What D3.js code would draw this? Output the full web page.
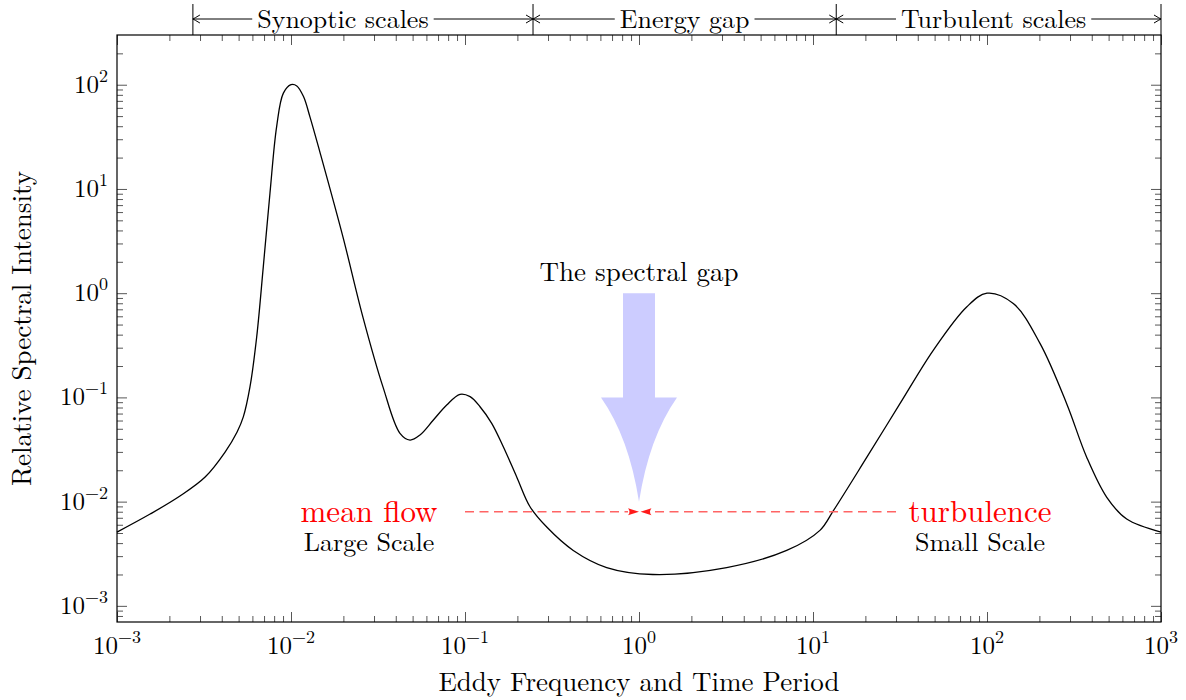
<!DOCTYPE html>
<html>
<head>
<meta charset="utf-8">
<script src="https://cdn.jsdelivr.net/npm/d3@7"></script>
<style>
  html, body { margin: 0; padding: 0; background: #fff; }
  svg text { font-family: "Latin Modern Roman", "CMU Serif", "Liberation Serif", "Times New Roman", serif; }
</style>
</head>
<body>
<svg id="chart" width="1186" height="700"></svg>
<script>
// Spectrum samples: eddy frequency and relative spectral intensity
const frequency = [0.001, 0.00155, 0.0023, 0.00321, 0.00418, 0.0049, 0.00532, 0.00581, 0.00635, 0.00693,
  0.00757, 0.00827, 0.00904, 0.01, 0.0108, 0.0118, 0.01285, 0.0147, 0.0199, 0.0259,
  0.0338, 0.0423, 0.0483, 0.0551, 0.0658, 0.0785, 0.0936, 0.107, 0.122, 0.1424,
  0.166, 0.198, 0.2364, 0.295, 0.419, 0.652, 1.2, 3.19, 7.06, 10.96,
  13.1, 20.4, 31.6, 49.1, 76.4, 100, 141.6, 202, 287, 374,
  488, 635, 1000];
const intensity = [0.0051, 0.0076, 0.01132, 0.01722, 0.0299, 0.0466, 0.065, 0.126, 0.38, 1.79,
  9.1, 39.7, 83, 100, 97.4, 77, 49.2, 22.2, 3.45, 0.59,
  0.1256, 0.0452, 0.039, 0.0436, 0.0607, 0.0845, 0.107, 0.1016, 0.0814, 0.0564,
  0.0336, 0.01734, 0.00893, 0.0057, 0.0034, 0.00233, 0.002, 0.00233, 0.0034, 0.0053,
  0.0082, 0.0267, 0.087, 0.283, 0.738, 1.0, 0.796, 0.328, 0.087, 0.0267,
  0.011, 0.0068, 0.0051];

// Axis ticks
const xTickValues = [1e-3, 1e-2, 1e-1, 1, 1e1, 1e2, 1e3];
const xTickExponents = ["\u22123", "\u22122", "\u22121", "0", "1", "2", "3"];
const yTickValues = [1e-3, 1e-2, 1e-1, 1, 1e1, 1e2];
const yTickExponents = ["\u22123", "\u22122", "\u22121", "0", "1", "2"];

// Scale bands along the top
const bandNames = ["Synoptic scales", "Energy gap", "Turbulent scales"];
const bandBounds = [0.00273, 0.246, 13.6, 1000];

// Annotation anchors (data coordinates)
const gapFrequency = 1;
const gapArrowTop = 1;
const gapArrowHeadBase = 0.1;
const gapArrowTip = 0.01;
const flowLevel = 0.008;
const meanFlowStart = 0.1;
const turbulenceStart = 30;

const svg = d3.select("#chart");
const plotLeft = 117, plotRight = 1161, plotTop = 35, plotBottom = 622;

const x = d3.scaleLog().domain([1e-3, 1e3]).range([plotLeft, plotRight]);
const y = d3.scaleLog().domain([7e-4, 300]).range([plotBottom, plotTop]);

// minor tick positions
const minorX = [];
for (let e = -3; e < 3; e++) for (let k = 2; k <= 9; k++) minorX.push(k * Math.pow(10, e));
const minorY = [];
for (let e = -4; e < 3; e++) for (let k = 2; k <= 9; k++) {
  const v = k * Math.pow(10, e);
  if (v > 7.05e-4 && v < 299) minorY.push(v);
}

function ticks(gen, transform, values, size) {
  svg.append("g")
    .attr("transform", transform)
    .call(gen.tickValues(values).tickSizeInner(-size).tickSizeOuter(0).tickFormat(() => ""))
    .call(g => g.select(".domain").remove())
    .call(g => g.selectAll("text").remove())
    .call(g => g.selectAll("line").attr("stroke", "#444").attr("stroke-width", 0.9));
}
ticks(d3.axisBottom(x), `translate(0,${plotBottom})`, xTickValues, 10);
ticks(d3.axisBottom(x), `translate(0,${plotBottom})`, minorX, 6);
ticks(d3.axisTop(x), `translate(0,${plotTop})`, xTickValues, 10);
ticks(d3.axisTop(x), `translate(0,${plotTop})`, minorX, 6);
ticks(d3.axisLeft(y), `translate(${plotLeft},0)`, yTickValues, 10);
ticks(d3.axisLeft(y), `translate(${plotLeft},0)`, minorY, 6);
ticks(d3.axisRight(y), `translate(${plotRight},0)`, yTickValues, 10);
ticks(d3.axisRight(y), `translate(${plotRight},0)`, minorY, 6);

// tick labels
const xl = svg.append("g").selectAll("text").data(xTickValues).join("text")
  .attr("x", d => x(d)).attr("y", 654)
  .attr("text-anchor", "middle").attr("font-size", 25).attr("fill", "#000");
xl.append("tspan").text("10");
xl.append("tspan").attr("dy", -11).attr("font-size", 18).text((d, i) => xTickExponents[i]);

const yl = svg.append("g").selectAll("text").data(yTickValues).join("text")
  .attr("x", 108).attr("y", d => y(d) + 8)
  .attr("text-anchor", "end").attr("font-size", 25).attr("fill", "#000");
yl.append("tspan").text("10");
yl.append("tspan").attr("dy", -11).attr("font-size", 18).text((d, i) => yTickExponents[i]);

// axis titles
svg.append("text").attr("x", (plotLeft + plotRight) / 2).attr("y", 691)
  .attr("text-anchor", "middle").attr("font-size", 27).text("Eddy Frequency and Time Period");
svg.append("text").attr("transform", `translate(31,${(plotTop + plotBottom) / 2}) rotate(-90)`)
  .attr("text-anchor", "middle").attr("font-size", 27).text("Relative Spectral Intensity");

// spectral gap arrow
const cx = x(gapFrequency), aTop = y(gapArrowTop), hb = y(gapArrowHeadBase), tip = y(gapArrowTip);
const hw = 16, headW = 38;
svg.append("path")
  .attr("d", `M${cx - hw},${aTop} L${cx + hw},${aTop} L${cx + hw},${hb} L${cx + headW},${hb}
    Q${cx + 10},${hb + 40} ${cx},${tip} Q${cx - 10},${hb + 40} ${cx - headW},${hb} L${cx - hw},${hb} Z`)
  .attr("fill", "#ccccff");
svg.append("text").attr("x", cx).attr("y", aTop - 12)
  .attr("text-anchor", "middle").attr("font-size", 27).text("The spectral gap");

// spectrum curve
const pts = frequency.map((f, i) => [f, intensity[i]]);
svg.append("path").datum(pts)
  .attr("d", d3.line().x(d => x(d[0])).y(d => y(d[1])).curve(d3.curveCatmullRom.alpha(0.5)))
  .attr("fill", "none").attr("stroke", "#000").attr("stroke-width", 1.3);

// mean flow / turbulence arrows
const fy = y(flowLevel), tipX = x(gapFrequency);
const headLen = 11, headHalf = 3.6;
svg.append("line").attr("x1", x(meanFlowStart)).attr("x2", tipX - headLen).attr("y1", fy).attr("y2", fy)
  .attr("stroke", "#ff6464").attr("stroke-width", 1.5).attr("stroke-dasharray", "9,5.5");
svg.append("line").attr("x1", x(turbulenceStart)).attr("x2", tipX + 1.5 + headLen).attr("y1", fy).attr("y2", fy)
  .attr("stroke", "#ff6464").attr("stroke-width", 1.5).attr("stroke-dasharray", "9,5.5");
svg.append("path")
  .attr("d", `M${tipX},${fy} L${tipX - headLen},${fy - headHalf} Q${tipX - headLen + 3},${fy} ${tipX - headLen},${fy + headHalf} Z`)
  .attr("fill", "#ff1a1a");
svg.append("path")
  .attr("d", `M${tipX + 1.5},${fy} L${tipX + 1.5 + headLen},${fy - headHalf} Q${tipX + 1.5 + headLen - 3},${fy} ${tipX + 1.5 + headLen},${fy + headHalf} Z`)
  .attr("fill", "#ff1a1a");

const mfX = x(meanFlowStart) - 96;
svg.append("text").attr("x", mfX).attr("y", fy + 10).attr("text-anchor", "middle")
  .attr("font-size", 31).attr("fill", "#ff0000").text("mean flow");
svg.append("text").attr("x", mfX).attr("y", fy + 39).attr("text-anchor", "middle")
  .attr("font-size", 26).attr("fill", "#000").text("Large Scale");
const tbX = x(turbulenceStart) + 84;
svg.append("text").attr("x", tbX).attr("y", fy + 10).attr("text-anchor", "middle")
  .attr("font-size", 31).attr("fill", "#ff0000").text("turbulence");
svg.append("text").attr("x", tbX).attr("y", fy + 39).attr("text-anchor", "middle")
  .attr("font-size", 26).attr("fill", "#000").text("Small Scale");

// scale bands along the top
const bandY = 19;
const labelShift = [-20, 0, -5];
const bandG = svg.append("g");
bandBounds.forEach(b => {
  bandG.append("line").attr("x1", x(b)).attr("x2", x(b)).attr("y1", 4).attr("y2", plotTop)
    .attr("stroke", "#000").attr("stroke-width", 1);
});
function chevron(tx, dir) {
  // dir = -1 points left, +1 points right
  const l = 7, h = 4;
  return `M${tx - dir * l},${bandY - h} Q${tx - dir * 2},${bandY - 1} ${tx},${bandY} Q${tx - dir * 2},${bandY + 1} ${tx - dir * l},${bandY + h}`;
}
bandNames.forEach((name, i) => {
  const x0 = x(bandBounds[i]), x1 = x(bandBounds[i + 1]);
  const t = bandG.append("text").attr("x", (x0 + x1) / 2 + labelShift[i]).attr("y", bandY + 9)
    .attr("text-anchor", "middle").attr("font-size", 26).text(name);
  const bb = t.node().getBBox();
  bandG.append("line").attr("x1", x0).attr("x2", bb.x - 5).attr("y1", bandY).attr("y2", bandY)
    .attr("stroke", "#000").attr("stroke-width", 1);
  bandG.append("line").attr("x1", bb.x + bb.width + 5).attr("x2", x1).attr("y1", bandY).attr("y2", bandY)
    .attr("stroke", "#000").attr("stroke-width", 1);
  bandG.append("path").attr("d", chevron(x0, -1)).attr("fill", "none").attr("stroke", "#000").attr("stroke-width", 1);
  bandG.append("path").attr("d", chevron(x1, 1)).attr("fill", "none").attr("stroke", "#000").attr("stroke-width", 1);
});

// plot frame
svg.append("rect").attr("x", plotLeft).attr("y", plotTop).attr("width", plotRight - plotLeft).attr("height", plotBottom - plotTop)
  .attr("fill", "none").attr("stroke", "#000").attr("stroke-width", 1.2);
</script>
</body>
</html>
